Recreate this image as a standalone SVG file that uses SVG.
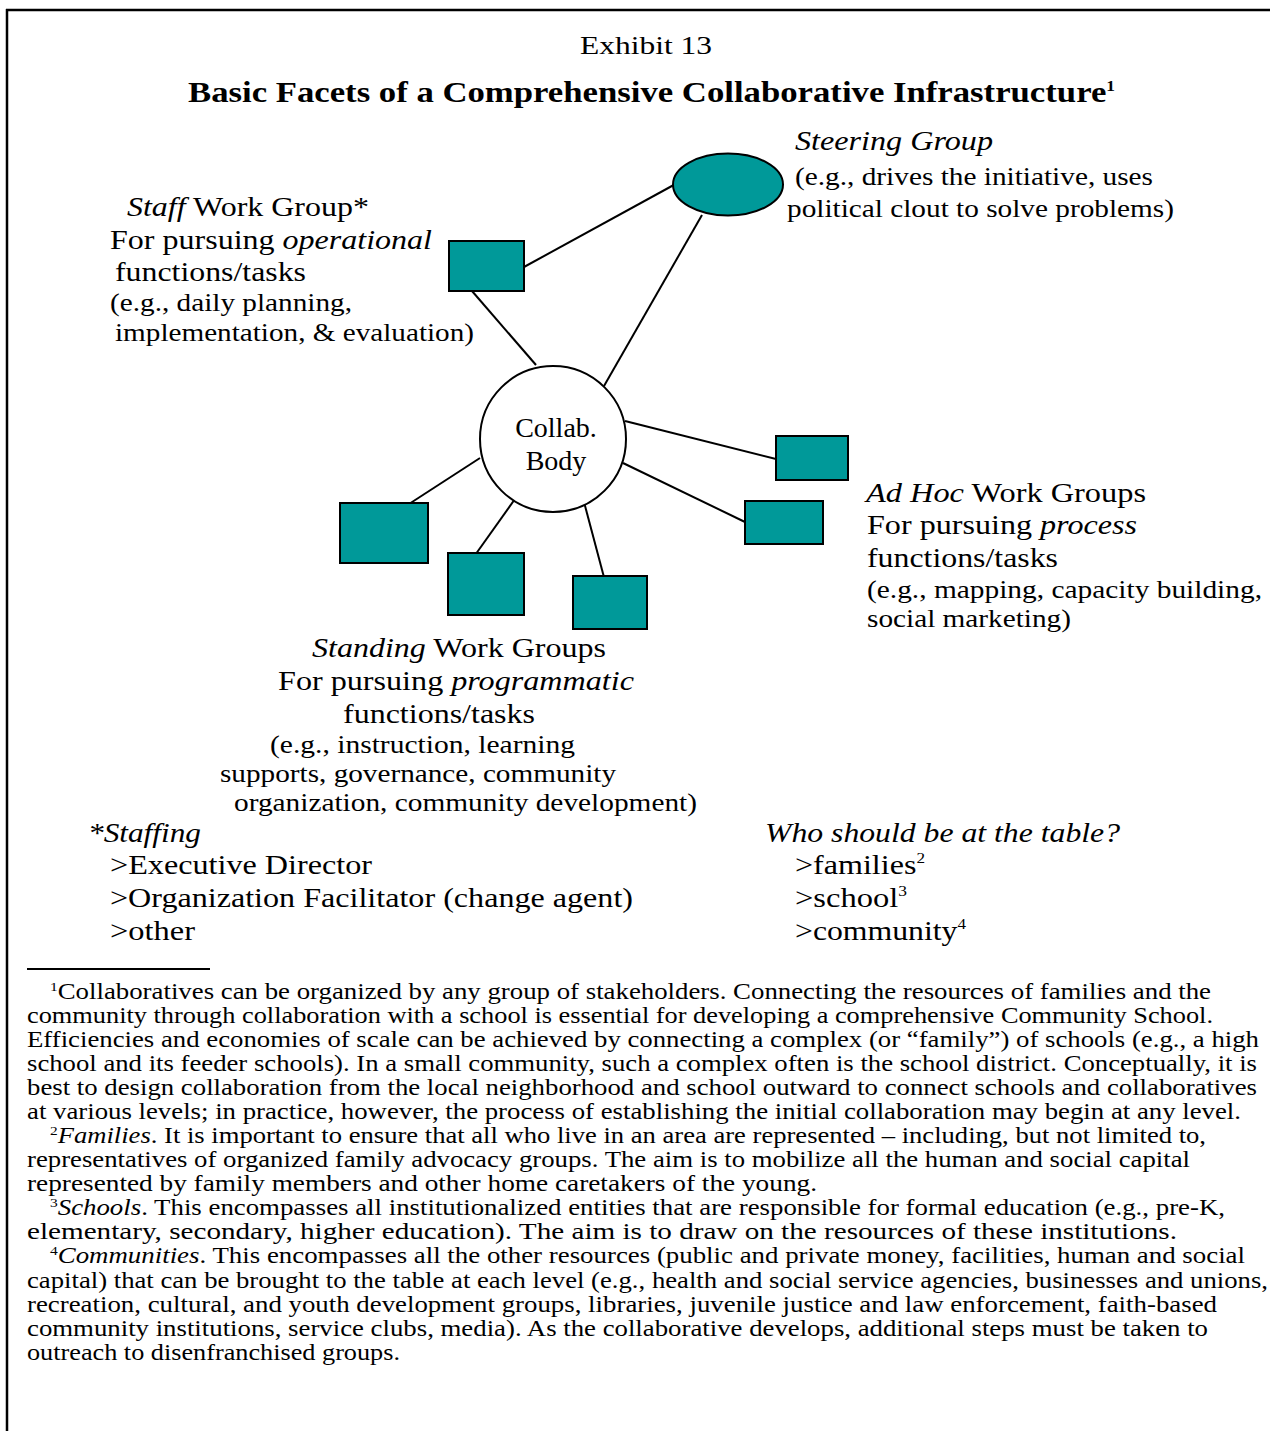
<svg xmlns="http://www.w3.org/2000/svg" width="1270" height="1431" viewBox="0 0 1270 1431">
  <style>
    text { font-family: "Liberation Serif", "Times New Roman", serif; fill: #000; }
    .lbl { font-size: 28px; }
    .sm { font-size: 26px; }
    .fn { font-size: 22.5px; }
    .it { font-style: italic; }
    .sup { font-size: 15px; }
    .fsup { font-size: 13px; }
    .box { fill: #009999; stroke: #000; stroke-width: 2; }
    .edge { stroke: #000; stroke-width: 2; fill: none; }
  </style>
  <rect x="0" y="0" width="1270" height="1431" fill="#fff"/>

  <!-- page frame (top and left rules) -->
  <g id="frame">
    <line x1="6" y1="10" x2="1270" y2="10" stroke="#000" stroke-width="2.5"/>
    <line x1="7" y1="9" x2="7" y2="1431" stroke="#000" stroke-width="2.5"/>
  </g>

  <!-- headings -->
  <g id="heading">
    <text x="646" y="54" text-anchor="middle" font-size="26" textLength="132" lengthAdjust="spacingAndGlyphs">Exhibit 13</text>
    <text x="188" y="102" font-size="30" font-weight="bold" textLength="927" lengthAdjust="spacingAndGlyphs">Basic Facets of a Comprehensive Collaborative Infrastructure<tspan class="sup" dy="-11">1</tspan></text>
  </g>

  <!-- connectors -->
  <g id="connectors">
    <line class="edge" x1="524" y1="267" x2="681" y2="181"/>
    <line class="edge" x1="472" y1="291" x2="536" y2="365"/>
    <line class="edge" x1="702" y1="215" x2="604" y2="386"/>
    <line class="edge" x1="625" y1="421" x2="780" y2="460"/>
    <line class="edge" x1="623" y1="463" x2="745" y2="522"/>
    <line class="edge" x1="480" y1="458" x2="409" y2="504"/>
    <line class="edge" x1="515" y1="499" x2="473" y2="558"/>
    <line class="edge" x1="584" y1="502" x2="605" y2="581"/>
  </g>

  <!-- steering group -->
  <g id="steering-group">
    <ellipse class="box" cx="728" cy="184.5" rx="55" ry="31"/>
    <text class="lbl it" x="795" y="150" textLength="198" lengthAdjust="spacingAndGlyphs">Steering Group</text>
    <text class="sm" x="795" y="185" textLength="358" lengthAdjust="spacingAndGlyphs">(e.g., drives the initiative, uses</text>
    <text class="sm" x="787" y="217" textLength="387" lengthAdjust="spacingAndGlyphs">political clout to solve problems)</text>
  </g>

  <!-- staff work group -->
  <g id="staff-work-group">
    <rect class="box" x="449" y="241" width="75" height="50"/>
    <text class="lbl" x="127" y="216" textLength="242" lengthAdjust="spacingAndGlyphs"><tspan class="it">Staff</tspan> Work Group*</text>
    <text class="lbl" x="110" y="249" textLength="322" lengthAdjust="spacingAndGlyphs">For pursuing <tspan class="it">operational</tspan></text>
    <text class="lbl" x="115" y="281" textLength="191" lengthAdjust="spacingAndGlyphs">functions/tasks</text>
    <text class="sm" x="110" y="311" textLength="242" lengthAdjust="spacingAndGlyphs">(e.g., daily planning,</text>
    <text class="sm" x="115" y="341" textLength="359" lengthAdjust="spacingAndGlyphs">implementation, &amp; evaluation)</text>
  </g>

  <!-- collaborative body -->
  <g id="collab-body">
    <circle cx="553" cy="439" r="73" fill="#fff" stroke="#000" stroke-width="2"/>
    <text class="lbl" x="556" y="437" text-anchor="middle">Collab.</text>
    <text class="lbl" x="556" y="470" text-anchor="middle">Body</text>
  </g>

  <!-- ad hoc work groups -->
  <g id="ad-hoc-work-groups">
    <rect class="box" x="776" y="436" width="72" height="44"/>
    <rect class="box" x="745" y="501" width="78" height="43"/>
    <text class="lbl" x="866" y="502" textLength="280" lengthAdjust="spacingAndGlyphs"><tspan class="it">Ad Hoc</tspan> Work Groups</text>
    <text class="lbl" x="867" y="534" textLength="270" lengthAdjust="spacingAndGlyphs">For pursuing <tspan class="it">process</tspan></text>
    <text class="lbl" x="867" y="567" textLength="191" lengthAdjust="spacingAndGlyphs">functions/tasks</text>
    <text class="sm" x="867" y="598" textLength="395" lengthAdjust="spacingAndGlyphs">(e.g., mapping, capacity building,</text>
    <text class="sm" x="867" y="627" textLength="204" lengthAdjust="spacingAndGlyphs">social marketing)</text>
  </g>

  <!-- standing work groups -->
  <g id="standing-work-groups">
    <rect class="box" x="340" y="503" width="88" height="60"/>
    <rect class="box" x="448" y="553" width="76" height="62"/>
    <rect class="box" x="573" y="576" width="74" height="53"/>
    <text class="lbl" x="312" y="657" textLength="294" lengthAdjust="spacingAndGlyphs"><tspan class="it">Standing</tspan> Work Groups</text>
    <text class="lbl" x="278" y="690" textLength="356" lengthAdjust="spacingAndGlyphs">For pursuing <tspan class="it">programmatic</tspan></text>
    <text class="lbl" x="343" y="723" textLength="192" lengthAdjust="spacingAndGlyphs">functions/tasks</text>
    <text class="sm" x="270" y="753" textLength="305" lengthAdjust="spacingAndGlyphs">(e.g., instruction, learning</text>
    <text class="sm" x="220" y="782" textLength="396" lengthAdjust="spacingAndGlyphs">supports, governance, community</text>
    <text class="sm" x="234" y="811" textLength="463" lengthAdjust="spacingAndGlyphs">organization, community development)</text>
  </g>

  <!-- staffing list -->
  <g id="staffing">
    <text class="lbl it" x="88" y="842" textLength="113" lengthAdjust="spacingAndGlyphs">*Staffing</text>
    <text class="lbl" x="110" y="874" textLength="262" lengthAdjust="spacingAndGlyphs">&gt;Executive Director</text>
    <text class="lbl" x="110" y="907" textLength="523" lengthAdjust="spacingAndGlyphs">&gt;Organization Facilitator (change agent)</text>
    <text class="lbl" x="110" y="940" textLength="85" lengthAdjust="spacingAndGlyphs">&gt;other</text>
  </g>

  <!-- who should be at the table -->
  <g id="table-members">
    <text class="lbl it" x="765" y="842" textLength="355" lengthAdjust="spacingAndGlyphs">Who should be at the table?</text>
    <text class="lbl" x="795" y="874" textLength="130" lengthAdjust="spacingAndGlyphs">&gt;families<tspan class="sup" dy="-11">2</tspan></text>
    <text class="lbl" x="795" y="907" textLength="112" lengthAdjust="spacingAndGlyphs">&gt;school<tspan class="sup" dy="-11">3</tspan></text>
    <text class="lbl" x="795" y="940" textLength="171" lengthAdjust="spacingAndGlyphs">&gt;community<tspan class="sup" dy="-11">4</tspan></text>
  </g>

  <!-- footnotes -->
  <g id="footnotes">
    <line x1="27" y1="969" x2="210" y2="969" stroke="#000" stroke-width="2"/>
    <text class="fn" x="50" y="999" textLength="1161" lengthAdjust="spacingAndGlyphs"><tspan class="fsup" dy="-8">1</tspan><tspan dy="8">Collaboratives can be organized by any group of stakeholders. Connecting the resources of families and the</tspan></text>
    <text class="fn" x="27" y="1023" textLength="1186" lengthAdjust="spacingAndGlyphs">community through collaboration with a school is essential for developing a comprehensive Community School.</text>
    <text class="fn" x="27" y="1047" textLength="1232" lengthAdjust="spacingAndGlyphs">Efficiencies and economies of scale can be achieved by connecting a complex (or “family”) of schools (e.g., a high</text>
    <text class="fn" x="27" y="1071" textLength="1230" lengthAdjust="spacingAndGlyphs">school and its feeder schools). In a small community, such a complex often is the school district. Conceptually, it is</text>
    <text class="fn" x="27" y="1095" textLength="1230" lengthAdjust="spacingAndGlyphs">best to design collaboration from the local neighborhood and school outward to connect schools and collaboratives</text>
    <text class="fn" x="27" y="1119" textLength="1214" lengthAdjust="spacingAndGlyphs">at various levels; in practice, however, the process of establishing the initial collaboration may begin at any level.</text>
    <text class="fn" x="50" y="1143" textLength="1156" lengthAdjust="spacingAndGlyphs"><tspan class="fsup" dy="-8">2</tspan><tspan class="it" dy="8">Families</tspan>. It is important to ensure that all who live in an area are represented – including, but not limited to,</text>
    <text class="fn" x="27" y="1167" textLength="1163" lengthAdjust="spacingAndGlyphs">representatives of organized family advocacy groups. The aim is to mobilize all the human and social capital</text>
    <text class="fn" x="27" y="1191" textLength="790" lengthAdjust="spacingAndGlyphs">represented by family members and other home caretakers of the young.</text>
    <text class="fn" x="50" y="1215" textLength="1175" lengthAdjust="spacingAndGlyphs"><tspan class="fsup" dy="-8">3</tspan><tspan class="it" dy="8">Schools</tspan>. This encompasses all institutionalized entities that are responsible for formal education (e.g., pre-K,</text>
    <text class="fn" x="27" y="1239" textLength="1150" lengthAdjust="spacingAndGlyphs">elementary, secondary, higher education). The aim is to draw on the resources of these institutions.</text>
    <text class="fn" x="50" y="1263" textLength="1195" lengthAdjust="spacingAndGlyphs"><tspan class="fsup" dy="-8">4</tspan><tspan class="it" dy="8">Communities</tspan>. This encompasses all the other resources (public and private money, facilities, human and social</text>
    <text class="fn" x="27" y="1288" textLength="1241" lengthAdjust="spacingAndGlyphs">capital) that can be brought to the table at each level (e.g., health and social service agencies, businesses and unions,</text>
    <text class="fn" x="27" y="1312" textLength="1190" lengthAdjust="spacingAndGlyphs">recreation, cultural, and youth development groups, libraries, juvenile justice and law enforcement, faith-based</text>
    <text class="fn" x="27" y="1336" textLength="1181" lengthAdjust="spacingAndGlyphs">community institutions, service clubs, media). As the collaborative develops, additional steps must be taken to</text>
    <text class="fn" x="27" y="1360" textLength="373" lengthAdjust="spacingAndGlyphs">outreach to disenfranchised groups.</text>
  </g>
</svg>
